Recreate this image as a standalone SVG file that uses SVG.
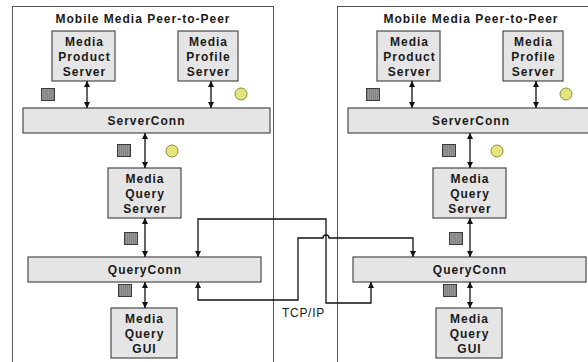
<svg xmlns="http://www.w3.org/2000/svg" width="588" height="362" viewBox="0 0 588 362">
<defs>
<style>
.panel{fill:none;stroke:#555;stroke-width:1}
.box{fill:#e5e5e5;stroke:#4a4a4a;stroke-width:1.2}
.t{font-family:"Liberation Sans",Arial,sans-serif;font-size:12px;font-weight:bold;letter-spacing:1px;fill:#1a1a1a;text-anchor:middle}
.lbl{font-family:"Liberation Sans",Arial,sans-serif;font-size:12px;letter-spacing:0.7px;fill:#1a1a1a}
.c{fill:none;stroke:#111;stroke-width:1.3;marker-start:url(#ah);marker-end:url(#ah)}
.sq{fill:url(#stripes);stroke:#3a3a3a;stroke-width:1}
.ci{fill:#e4e47c;stroke:#8c8c48;stroke-width:1}
</style>
<marker id="ah" markerUnits="userSpaceOnUse" markerWidth="7" markerHeight="7" refX="6" refY="3.5" orient="auto-start-reverse">
<path d="M0,0.5 L6,3.5 L0,6.5 z" fill="#111"/>
</marker>
<pattern id="stripes" patternUnits="userSpaceOnUse" width="2" height="2">
<rect width="2" height="2" fill="#828282"/>
<rect width="1" height="2" fill="#969696"/>
</pattern>
</defs>

<g id="panel-left">
<rect class="panel" x="12.5" y="6.5" width="261" height="362"/>
<text class="t" x="143" y="22.7">Mobile Media Peer-to-Peer</text>
</g>
<g id="panel-right">
<rect class="panel" x="337.5" y="6.5" width="300" height="362"/>
<text class="t" x="471" y="22.7">Mobile Media Peer-to-Peer</text>
</g>

<g id="L-product"><rect class="box" x="52" y="31" width="63" height="50"/>
<text class="t" x="84.5" y="45.5">Media</text><text class="t" x="84.5" y="60.5">Product</text><text class="t" x="84.5" y="75.5">Server</text></g>
<g id="L-profile"><rect class="box" x="178" y="31" width="60" height="50"/>
<text class="t" x="208.5" y="45.5">Media</text><text class="t" x="208.5" y="60.5">Profile</text><text class="t" x="208.5" y="75.5">Server</text></g>
<g id="L-serverconn"><rect class="box" x="23" y="108" width="247" height="25"/>
<text class="t" x="146.5" y="124.8">ServerConn</text></g>
<g id="L-mqs"><rect class="box" x="108" y="168" width="73" height="50"/>
<text class="t" x="145" y="183.3">Media</text><text class="t" x="145" y="198.3">Query</text><text class="t" x="145" y="213.3">Server</text></g>
<g id="L-queryconn"><rect class="box" x="28" y="257" width="233" height="25"/>
<text class="t" x="145" y="274">QueryConn</text></g>
<g id="L-gui"><rect class="box" x="111" y="308" width="66" height="50"/>
<text class="t" x="144.5" y="322.7">Media</text><text class="t" x="144.5" y="337.7">Query</text><text class="t" x="144.5" y="352.7">GUI</text></g>

<g id="R-product"><rect class="box" x="377" y="31" width="63" height="50"/>
<text class="t" x="409.5" y="45.5">Media</text><text class="t" x="409.5" y="60.5">Product</text><text class="t" x="409.5" y="75.5">Server</text></g>
<g id="R-profile"><rect class="box" x="503" y="31" width="60" height="50"/>
<text class="t" x="533.5" y="45.5">Media</text><text class="t" x="533.5" y="60.5">Profile</text><text class="t" x="533.5" y="75.5">Server</text></g>
<g id="R-serverconn"><rect class="box" x="348" y="108" width="250" height="25"/>
<text class="t" x="471" y="124.8">ServerConn</text></g>
<g id="R-mqs"><rect class="box" x="433" y="168" width="73" height="50"/>
<text class="t" x="470" y="183.3">Media</text><text class="t" x="470" y="198.3">Query</text><text class="t" x="470" y="213.3">Server</text></g>
<g id="R-queryconn"><rect class="box" x="353" y="257" width="233" height="25"/>
<text class="t" x="470" y="274">QueryConn</text></g>
<g id="R-gui"><rect class="box" x="436" y="308" width="66" height="50"/>
<text class="t" x="469.5" y="322.7">Media</text><text class="t" x="469.5" y="337.7">Query</text><text class="t" x="469.5" y="352.7">GUI</text></g>

<g id="icons">
<rect class="sq" x="41.5" y="88.5" width="13" height="12"/>
<circle class="ci" cx="241" cy="94" r="6"/>
<rect class="sq" x="117.5" y="144.5" width="13" height="12"/>
<circle class="ci" cx="172" cy="151" r="6"/>
<rect class="sq" x="124.5" y="232.5" width="13" height="12"/>
<rect class="sq" x="118.5" y="284.5" width="13" height="12"/>
<rect class="sq" x="366.5" y="88.5" width="13" height="12"/>
<circle class="ci" cx="566" cy="94" r="6"/>
<rect class="sq" x="442.5" y="144.5" width="13" height="12"/>
<circle class="ci" cx="497" cy="151" r="6"/>
<rect class="sq" x="449.5" y="232.5" width="13" height="12"/>
<rect class="sq" x="443.5" y="284.5" width="13" height="12"/>
</g>

<g id="connectors">
<path class="c" d="M87,81 V108"/>
<path class="c" d="M211,81 V108"/>
<path class="c" d="M145,133 V168"/>
<path class="c" d="M145,218 V257"/>
<path class="c" d="M145,282 V308"/>
<path class="c" d="M412,81 V108"/>
<path class="c" d="M536,81 V108"/>
<path class="c" d="M470,133 V168"/>
<path class="c" d="M470,218 V257"/>
<path class="c" d="M470,282 V308"/>
<path class="c" d="M198,257 V219 H326 V303 H371 V282"/>
<path class="c" d="M198,282 V300 H298 V238 H323 A3,3 0 0 1 329,238 H413 V257"/>
</g>
<text class="lbl" x="282" y="317">TCP/IP</text>
</svg>
